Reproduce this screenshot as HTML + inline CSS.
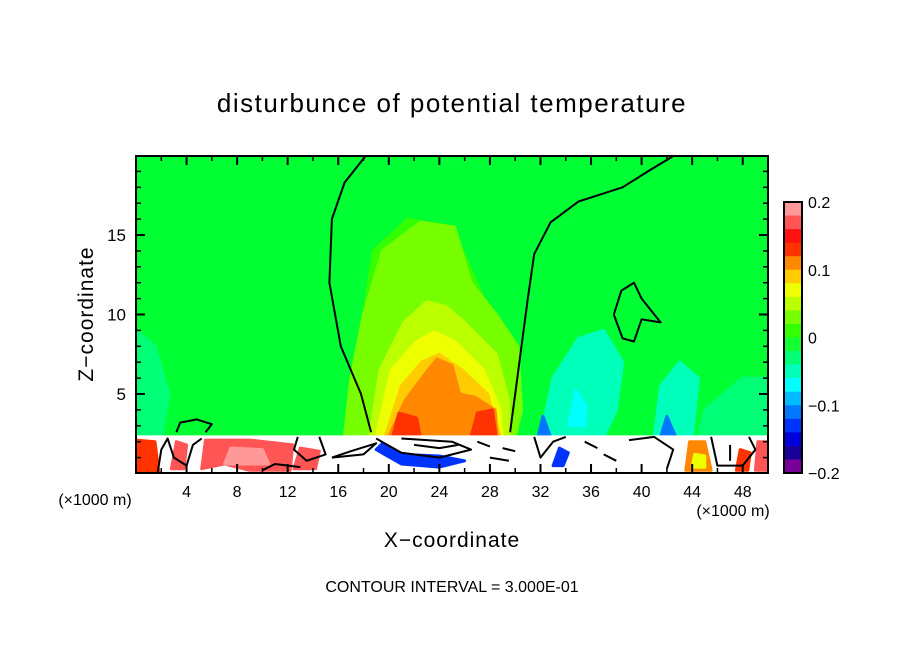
<!DOCTYPE html>
<html><head><meta charset="utf-8"><style>
body{margin:0;background:#fff;}
svg{display:block;font-family:"Liberation Sans",sans-serif;}
</style></head><body>
<svg width="904" height="654" viewBox="0 0 904 654">
<text x="452" y="112" text-anchor="middle" font-size="26" letter-spacing="1.5">disturbunce of potential temperature</text>
<defs><clipPath id="pc"><rect x="136" y="156" width="632" height="317"/></clipPath></defs>
<g id="plot" clip-path="url(#pc)"></g>
<rect x="136" y="156" width="632" height="317" fill="none" stroke="#000" stroke-width="2"/>
<g id="ticks"></g>
<g id="cbar"></g>
<text x="95" y="505" text-anchor="middle" font-size="16">(×1000 m)</text>
<text x="733" y="516" text-anchor="middle" font-size="16">(×1000 m)</text>
<text x="452" y="547" text-anchor="middle" font-size="21" letter-spacing="1">X−coordinate</text>
<text transform="translate(93,314) rotate(-90)" text-anchor="middle" font-size="21" letter-spacing="1">Z−coordinate</text>
<text x="452" y="592" text-anchor="middle" font-size="16">CONTOUR INTERVAL = 3.000E-01</text>
</svg>
<script>
const NS="http://www.w3.org/2000/svg";
const xTicks=[4,8,12,16,20,24,28,32,36,40,44,48];
const zTicks=[5,10,15];
const cbLevels=[0.2,0.1,0,-0.1,-0.2];
const cbLabels=["0.2","0.1","0","−0.1","−0.2"];
const cbColors=["#ff9999","#ff5555","#ff1111","#ff3300","#ff8800","#ffcc00","#eeff00","#bbff00","#77ff00","#33ff00","#11ff33","#00ff77","#00ffbb","#00ffff","#00bbff","#0077ff","#0033ff","#0000dd","#1a0099","#770099"];
const fillColors=["#33ff00","#77ff00","#bbff00","#eeff00","#ffcc00","#ff8800","#ff3300","#ff3300","#00ff77","#00ffbb","#00ffbb","#00ffff","#00ff77","#0077ff","#0077ff","#ffffff","#ff3300","#ff5555","#ff9999","#ff8800","#eeff00","#0033ff","#ff5555","#ff5555","#ff3300","#ff5555","#0033ff"];
const fillPolys=[
[[17.5,3],[17.8,9],[18.8,14],[21.5,16],[25,15.5],[27.5,11],[29.5,7],[30,3]],
[[16.5,2.5],[17,6],[18,10],[19.5,14],[22.5,15.8],[25.2,15.5],[26.5,12],[28.5,10],[30.2,8],[30.5,4],[30,2.3]],
[[18.5,2.3],[19.3,6.5],[21.2,9.5],[23,10.8],[24.5,10.5],[26,9.5],[28.5,7.5],[29.5,4.5],[29.5,2.3]],
[[19,2.3],[20.2,6.5],[22.2,8.3],[23.6,8.9],[25.2,8.3],[27.5,6.5],[28.8,4],[29,2.3]],
[[19.7,2.3],[21,5.5],[22.6,7],[24,7.5],[25.8,6.5],[27.8,5],[28.8,2.3]],
[[20,2.3],[21.3,4.6],[22.8,6.2],[23.8,7.2],[25,6.8],[25.6,5],[26.8,4.8],[28.4,4],[28.6,2.3]],
[[20.3,2.3],[20.8,3.8],[22.2,3.5],[22.5,2.3]],
[[26.5,2.3],[27,3.8],[28.2,4],[28.5,2.3]],
[[0,2.3],[0,9],[1.5,8],[2.6,5],[2,2.3]],
[[32,2.3],[33,6],[35,8.5],[37,9],[38.5,7],[38,4],[37,2.3]],
[[41,2.3],[41.5,5.5],[43,7],[44.5,6],[44,2.3]],
[[34.2,3],[34.8,5.2],[35.6,4.2],[35.5,3]],
[[44.5,2.3],[45,4],[48,6],[50,6],[50,2.3]],
[[31.8,2.3],[32.2,3.6],[32.8,2.3]],
[[41.5,2.3],[42,3.6],[42.7,2.3]],
[[0,0],[0,2.3],[50,2.3],[50,0]],
[[0,0.1],[0,2.1],[1.5,2],[1.8,0.1]],
[[5.2,0.3],[5.5,2.1],[9,2.1],[12.4,1.8],[12.2,0.2],[9,0.2],[7,0.6]],
[[7,0.6],[7.5,1.6],[10,1.5],[10.5,0.6]],
[[43.5,0.2],[43.8,2],[45,2],[45.5,0.2]],
[[44,0.4],[44.2,1.2],[45,1.1],[45,0.4]],
[[19,1.5],[21,0.6],[24,0.4],[26,0.8],[24,1.1],[21,1.2],[19.5,1.9]],
[[12.5,0.3],[13,1.6],[14.5,1.4],[14.2,0.3]],
[[2.8,0.3],[3.2,2],[4,1.8],[3.8,0.3]],
[[47.5,0.2],[47.8,1.5],[48.6,1.3],[48.4,0.2]],
[[49,0.2],[49.2,2],[50,2],[50,0.2]],
[[33,0.5],[33.5,1.6],[34.2,1.3],[33.8,0.5]]
];
const contourLines=[
[[18.6,2.6],[17.8,5],[16.2,8],[15.3,12],[15.5,16],[16.5,18.3],[18.2,20]],
[[29.6,2.6],[30,5],[30.5,8],[31,11],[31.5,13.8],[32.8,15.8],[35,17.1],[38.5,18],[40.5,19],[43,20.2]],
[[37.8,10],[38.4,11.5],[39.4,12],[40,11],[41.5,9.5],[40,9.7],[39.4,8.3],[38.5,8.5],[37.8,10]],
[[3.2,2.6],[3.5,3.2],[4.8,3.4],[6,3.1],[5.5,2.6]],
[[1.7,0],[2,1.5],[2.5,2.2],[3,1],[4,0.5],[4.5,1.8],[5.2,2.2]],
[[12.8,2.3],[12.5,1.5],[13.5,0.8],[15,1.2],[14.5,2.3]],
[[15.5,1],[17,1.4],[19,1.9],[18,1.2],[15.5,1]],
[[19,2.2],[21,1.3],[24,1],[26.5,1.5],[25,2],[21,2.2]],
[[22,1.8],[24,1.6],[25.5,1.8]],
[[27,2],[28,1.7]],[[29,1.6],[30,1.4]],[[28,1],[29.5,0.8]],
[[31.5,2.3],[32,1],[33,2],[34,2.3]],
[[35.5,2],[36.5,1.6]],[[37,1.2],[38,0.8]],
[[39,2.1],[41,2.3],[42.5,1.5],[42,0.3]],
[[45.5,2.3],[46,0.5],[48,0.5],[49,1.5],[48.5,2.3]],
[[47,1.8],[47,0.8]],
[[10,0.2],[11,0.6],[13,0.4]]
];
const xs=v=>136+v*12.64, zs=v=>473.5-v*15.9;
const P=(pts)=>pts.map(p=>xs(p[0]).toFixed(1)+","+zs(p[1]).toFixed(1)).join(" ");
const plot=document.getElementById("plot");
let bg=document.createElementNS(NS,"rect");
bg.setAttribute("x",136);bg.setAttribute("y",156);bg.setAttribute("width",632);bg.setAttribute("height",317);bg.setAttribute("fill","#00ff33");


plot.appendChild(bg);
fillPolys.forEach((pts,i)=>{
 const e=document.createElementNS(NS,"polygon");
 e.setAttribute("points",P(pts));e.setAttribute("fill",fillColors[i]);e.setAttribute("stroke",fillColors[i]);e.setAttribute("stroke-linejoin","round");e.setAttribute("stroke-width","3");
 
 
 plot.appendChild(e);
});
contourLines.forEach(pts=>{
 const e=document.createElementNS(NS,"polyline");
 e.setAttribute("points",P(pts));e.setAttribute("fill","none");e.setAttribute("stroke","#000");e.setAttribute("stroke-width","2");e.setAttribute("stroke-linejoin","round");
 
 
 plot.appendChild(e);
});
const tg=document.getElementById("ticks");
function line(x1,y1,x2,y2,w){const l=document.createElementNS(NS,"line");l.setAttribute("x1",x1);l.setAttribute("y1",y1);l.setAttribute("x2",x2);l.setAttribute("y2",y2);l.setAttribute("stroke","#000");l.setAttribute("stroke-width",w);


tg.appendChild(l);}
for(let k=2;k<50;k+=2){const x=xs(k),L=k%4==0?9:5,w=k%4==0?2:1.5;line(x,473,x,473-L,w);line(x,156,x,156+L,w);}
for(let k=1;k<20;k++){const y=zs(k),L=k%5==0?9:5,w=k%5==0?2:1.5;line(136,y,136+L,y,w);line(768,y,768-L,y,w);}
xTicks.forEach(v=>{const t=document.createElementNS(NS,"text");t.setAttribute("x",xs(v));t.setAttribute("y",497);t.setAttribute("text-anchor","middle");t.setAttribute("font-size","16");t.textContent=v;


tg.appendChild(t);});
zTicks.forEach(v=>{const t=document.createElementNS(NS,"text");t.setAttribute("x",126);t.setAttribute("y",zs(v)+6);t.setAttribute("text-anchor","end");t.setAttribute("font-size","17");t.textContent=v;


tg.appendChild(t);});
const cb=document.getElementById("cbar");
const cy=v=>337.5-v*677.5, h=271/cbColors.length;
cbColors.forEach((c,i)=>{const r=document.createElementNS(NS,"rect");r.setAttribute("x",784);r.setAttribute("y",202+i*h);r.setAttribute("width",18);r.setAttribute("height",h+0.5);r.setAttribute("fill",c);


cb.appendChild(r);});
const fr=document.createElementNS(NS,"rect");fr.setAttribute("x",784);fr.setAttribute("y",202);fr.setAttribute("width",18);fr.setAttribute("height",271);fr.setAttribute("fill","none");fr.setAttribute("stroke","#000");fr.setAttribute("stroke-width","2");


cb.appendChild(fr);
cbLevels.forEach((v,i)=>{const t=document.createElementNS(NS,"text");t.setAttribute("x",808);t.setAttribute("y",cy(v)+6);t.setAttribute("font-size","16");t.textContent=cbLabels[i];


cb.appendChild(t);});
</script>
</body></html>
